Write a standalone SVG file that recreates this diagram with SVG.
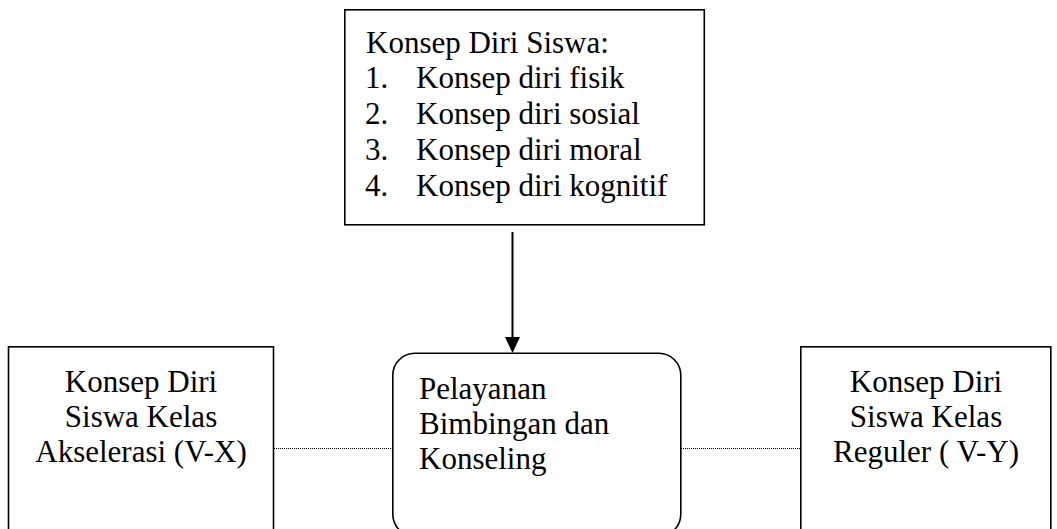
<svg xmlns="http://www.w3.org/2000/svg" width="1057" height="529" viewBox="0 0 1057 529">
<style>
.box{fill:#fff;stroke:#000;stroke-width:1.6}
.t{font-family:"Liberation Serif","Times New Roman",serif;font-size:31px;fill:#000}
.c{text-anchor:middle}
.dot{stroke:#000;stroke-width:1;stroke-dasharray:1 1;fill:none}
</style>
<g id="connectors">
<line x1="512.5" y1="232" x2="512.5" y2="337" stroke="#000" stroke-width="2"/>
<path d="M505,337 L520,337 L512.5,353 Z" fill="#000"/>
<line class="dot" x1="274" y1="448.5" x2="392" y2="448.5"/>
<line class="dot" x1="681" y1="448.5" x2="800" y2="448.5"/>
</g>
<g id="node-top">
<rect class="box" x="344.8" y="9.8" width="359.5" height="215"/>
<text class="t" x="366" y="52.5">Konsep Diri Siswa:</text>
<text class="t" x="365" y="88">1.</text><text class="t" x="416" y="88">Konsep diri fisik</text>
<text class="t" x="365" y="123.5">2.</text><text class="t" x="416" y="123.5">Konsep diri sosial</text>
<text class="t" x="365" y="159.5">3.</text><text class="t" x="416" y="159.5">Konsep diri moral</text>
<text class="t" x="365" y="195.5">4.</text><text class="t" x="416" y="195.5">Konsep diri kognitif</text>
</g>
<g id="node-left">
<rect class="box" x="8.5" y="346.8" width="265" height="200"/>
<text class="t c" x="141" y="391.5">Konsep Diri</text>
<text class="t c" x="141" y="426.5">Siswa Kelas</text>
<text class="t c" x="141" y="461.5">Akselerasi (V-X)</text>
</g>
<g id="node-center">
<rect class="box" x="392.8" y="353.3" width="288" height="183" rx="22" ry="22"/>
<text class="t" x="419" y="398.5">Pelayanan</text>
<text class="t" x="419" y="433.5">Bimbingan dan</text>
<text class="t" x="419" y="469">Konseling</text>
</g>
<g id="node-right">
<rect class="box" x="800.8" y="346.8" width="250" height="200"/>
<text class="t c" x="926" y="391.5">Konsep Diri</text>
<text class="t c" x="926" y="426.5">Siswa Kelas</text>
<text class="t c" x="926" y="461.5">Reguler ( V-Y)</text>
</g>
</svg>
